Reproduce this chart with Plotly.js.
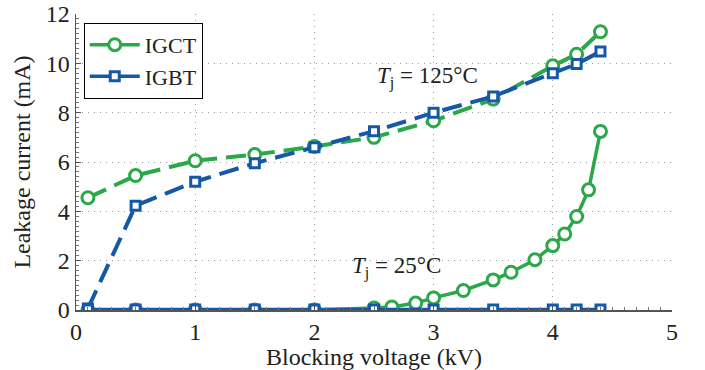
<!DOCTYPE html>
<html>
<head>
<meta charset="utf-8">
<script src="https://cdn.plot.ly/plotly-3.0.1.min.js"></script>
<style>
  html, body { margin: 0; padding: 0; background: #fff; }
  #chart { width: 705px; height: 370px; }
</style>
</head>
<body>
<div id="chart"></div>
<script>
// Blocking voltage sample points (kV)
const voltsSparse = [0.1, 0.5, 1, 1.5, 2, 2.5, 3, 3.5, 4, 4.2, 4.4];
const voltsIgct25 = [0.1, 0.5, 1, 1.5, 2, 2.5, 2.65, 2.85, 3.0, 3.25, 3.5, 3.65, 3.85, 4.0, 4.1, 4.2, 4.3, 4.4];

// Leakage current (mA)
const igct125 = [4.55, 5.45, 6.05, 6.3, 6.63, 7.0, 7.67, 8.55, 9.9, 10.37, 11.28];
const igbt125 = [0.06, 4.23, 5.2, 5.95, 6.6, 7.25, 8.0, 8.66, 9.6, 9.97, 10.48];
const igct25  = [0, 0, 0, 0, 0, 0.08, 0.12, 0.28, 0.49, 0.79, 1.22, 1.53, 2.04, 2.61, 3.08, 3.79, 4.87, 7.24];
const igbt25  = [0.02, 0.02, 0.02, 0.02, 0.02, 0.02, 0.02, 0.02, 0.02, 0.02, 0.02];

const seriesNames = ['IGCT', 'IGBT'];
const tempLabels = ['<i>T</i><sub>j</sub> = 125°C', '<i>T</i><sub>j</sub> = 25°C'];

const GREEN = '#2ba84a';
const BLUE = '#1559a6';
const FONT = 'Times New Roman, Liberation Serif, DejaVu Serif';
const DASH = '20px,9px';

const circleMarker = { symbol: 'circle', size: 12, color: '#fff', line: { color: GREEN, width: 3 } };
const squareMarker = { symbol: 'square', size: 9, color: '#fff', line: { color: BLUE, width: 3 } };

const traces = [
  { x: voltsSparse, y: igct125, mode: 'lines+markers', name: seriesNames[0], legendgroup: 'igct',
    showlegend: false, line: { color: GREEN, width: 4, dash: DASH }, marker: circleMarker },
  { x: voltsIgct25, y: igct25, mode: 'lines+markers', name: seriesNames[0], legendgroup: 'igct',
    line: { color: GREEN, width: 3.5 }, marker: circleMarker },
  { x: voltsSparse, y: igbt125, mode: 'lines+markers', name: seriesNames[1], legendgroup: 'igbt',
    showlegend: false, line: { color: BLUE, width: 4, dash: DASH }, marker: squareMarker },
  { x: voltsSparse, y: igbt25, mode: 'lines+markers', name: seriesNames[1], legendgroup: 'igbt',
    line: { color: BLUE, width: 3.5 }, marker: squareMarker }
];

const axisFont = { family: FONT, size: 24, color: '#222' };
const noteFont = { family: FONT, size: 23, color: '#222' };
const legendFont = { family: FONT, size: 22, color: '#222' };

const axisCommon = {
  showline: true, linecolor: '#555', linewidth: 1.5,
  ticks: 'inside', ticklen: 5, tickcolor: '#555', tickwidth: 1,
  showgrid: true, gridcolor: '#9a9a9a', gridwidth: 1, griddash: '1px,5px',
  zeroline: false,
  tickfont: axisFont
};

const layout = {
  width: 705, height: 370,
  margin: { l: 76, r: 33, t: 14, b: 60 },
  paper_bgcolor: '#fff', plot_bgcolor: '#fff',
  font: axisFont,
  xaxis: Object.assign({}, axisCommon, {
    range: [0, 5], dtick: 1,
    minor: { ticks: 'inside', ticklen: 3, tickcolor: '#777', dtick: 0.1, showgrid: false },
    title: { text: 'Blocking voltage (kV)', font: axisFont, standoff: 2 }
  }),
  yaxis: Object.assign({}, axisCommon, {
    range: [0, 12], dtick: 2,
    minor: { ticks: 'inside', ticklen: 3, tickcolor: '#777', dtick: 0.2, showgrid: false },
    title: { text: 'Leakage current (mA)', font: axisFont, standoff: 8 }
  }),
  legend: {
    x: 0.013, y: 0.97, xanchor: 'left', yanchor: 'top',
    bgcolor: '#fff', bordercolor: '#000', borderwidth: 1,
    font: legendFont,
    tracegroupgap: 0, itemwidth: 50
  },
  annotations: [
    { x: 2.508, y: 9.43, xref: 'x', yref: 'y', text: tempLabels[0], showarrow: false,
      xanchor: 'left', yanchor: 'middle', font: noteFont },
    { x: 2.30, y: 1.73, xref: 'x', yref: 'y', text: tempLabels[1], showarrow: false,
      xanchor: 'left', yanchor: 'middle', font: noteFont }
  ],
  showlegend: true
};

Plotly.newPlot('chart', traces, layout, { displayModeBar: false, staticPlot: true });
</script>
</body>
</html>
